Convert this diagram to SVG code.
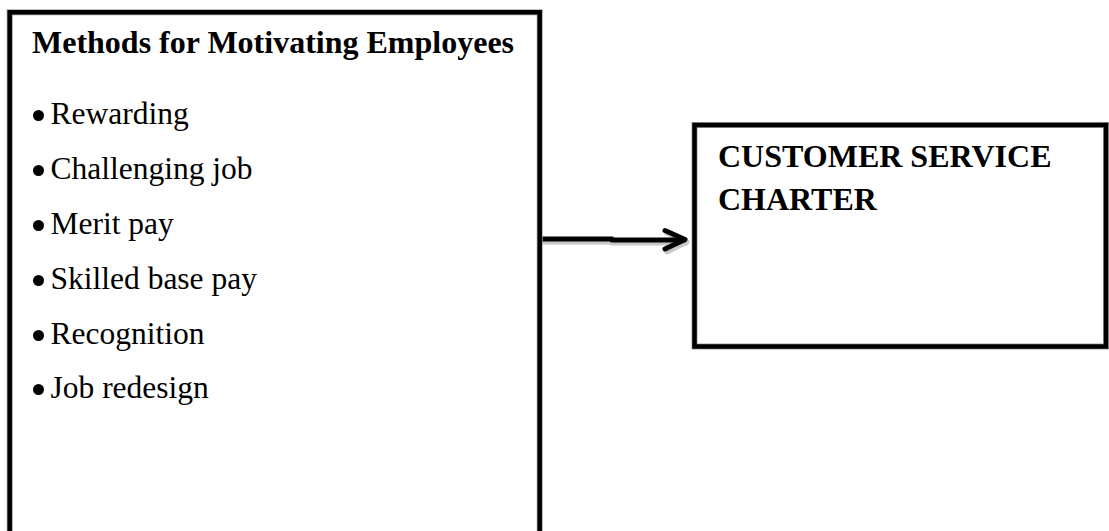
<svg xmlns="http://www.w3.org/2000/svg" width="1109" height="531" viewBox="0 0 1109 531">
  <defs>
    <style>
      .halo { fill: none; stroke: #a0a0a0; stroke-width: 6; }
      .box { fill: none; stroke: #000; stroke-width: 4.5; }
      .title { font-family: "Liberation Serif", "Times New Roman", serif; font-weight: bold; font-size: 32px; fill: #000; }
      .item { font-family: "Liberation Serif", "Times New Roman", serif; font-size: 31.5px; fill: #000; }
      .conn { fill: none; stroke: #000; stroke-width: 5; stroke-linecap: round; stroke-linejoin: round; }
      .shadow { fill: none; stroke: #c8c8c8; stroke-width: 5; stroke-linecap: round; stroke-linejoin: round; }
    </style>
  </defs>
  <rect width="1109" height="531" fill="#fff"/>

  <g id="connectors">
    <path class="shadow" d="M543 242 H612 M612 243 H686"/>
    <path class="shadow" d="M667 233 L687 242 L667 252"/>
    <path class="conn" d="M542 239 H612 M612 240 H684"/>
    <path class="conn" d="M665 230.5 L685 239.5 L665 249"/>
  </g>

  <g id="methods">
    <rect class="halo" x="9.7" y="12.3" width="530" height="540"/>
    <rect class="box" x="9.7" y="12.3" width="530" height="540"/>
    <text class="title" x="32" y="53">Methods for Motivating Employees</text>
    <g class="item">
      <circle cx="38.5" cy="115.5" r="5.5"/>
      <text x="50.5" y="124">Rewarding</text>
      <circle cx="38.5" cy="170.5" r="5.5"/>
      <text x="50.5" y="179">Challenging job</text>
      <circle cx="38.5" cy="225.5" r="5.5"/>
      <text x="50.5" y="234">Merit pay</text>
      <circle cx="38.5" cy="280.5" r="5.5"/>
      <text x="50.5" y="289">Skilled base pay</text>
      <circle cx="38.5" cy="335.5" r="5.5"/>
      <text x="50.5" y="344">Recognition</text>
      <circle cx="38.5" cy="389.5" r="5.5"/>
      <text x="50.5" y="398">Job redesign</text>
    </g>
  </g>

  <g id="charter">
    <rect class="halo" x="694.5" y="125" width="411.5" height="221.5"/>
    <rect class="box" x="694.5" y="125" width="411.5" height="221.5"/>
    <text class="title" x="718" y="166.5">CUSTOMER SERVICE</text>
    <text class="title" x="718" y="209.5">CHARTER</text>
  </g>
</svg>
